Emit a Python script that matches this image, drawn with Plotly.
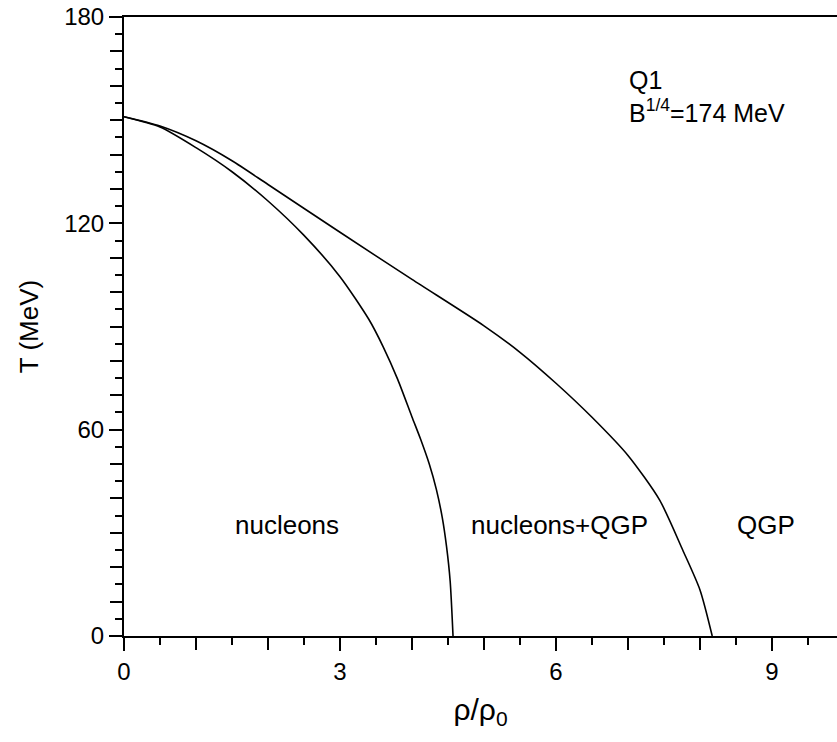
import plotly.graph_objects as go

# Phase boundaries in the (rho/rho0, T) plane
rho_nucleon_edge = [0.0, 0.5, 1.0, 1.5, 2.0, 2.5, 3.0, 3.4, 3.6, 3.8, 4.0,
                    4.12, 4.24, 4.34, 4.42, 4.48, 4.53, 4.57]
T_nucleon_edge = [151.0, 148.0, 142.0, 135.0, 126.5, 116.5, 104.5, 92.1, 84.1, 74.7, 63.7,
                  57.2, 50.0, 42.5, 34.5, 26.0, 16.0, 0.0]

rho_qgp_edge = [0.0, 0.5, 1.0, 1.5, 2.0, 3.0, 4.0, 5.0, 5.5, 6.0, 6.5,
                7.0, 7.44, 7.76, 8.0, 8.17]
T_qgp_edge = [151.0, 148.3, 144.0, 138.2, 131.3, 117.4, 103.7, 90.2, 82.5, 73.5, 63.6,
              52.5, 39.5, 25.0, 13.4, 0.0]

# Axis ticks and labels
x_labelled = [0, 3, 6, 9]
x_unit_ticks = list(range(0, 10))
y_labelled = [0, 60, 120, 180]
y_ten_ticks = list(range(0, 181, 10))

x_range = [0, 9.903]
y_range = [0, 180]

# Region labels
region_names = ["nucleons", "nucleons+QGP", "QGP"]
region_rho = [2.27, 6.05, 8.91]
region_T = [32.3, 32.3, 32.3]

FONT = "Liberation Sans, Arial, Helvetica, sans-serif"

fig = go.Figure()
for xs, ys in [(rho_nucleon_edge, T_nucleon_edge), (rho_qgp_edge, T_qgp_edge)]:
    fig.add_trace(go.Scatter(
        x=xs, y=ys, mode="lines",
        line=dict(color="black", width=1.6, shape="spline", smoothing=0.7),
        showlegend=False, hoverinfo="skip",
    ))

# Invisible copy on the overlay axes so the unit/ten ticks get drawn
fig.add_trace(go.Scatter(
    x=rho_qgp_edge, y=T_qgp_edge, mode="lines", xaxis="x2", yaxis="y2",
    line=dict(width=0), opacity=0, showlegend=False, hoverinfo="skip",
))

for name, rx, ty in zip(region_names, region_rho, region_T):
    fig.add_annotation(x=rx, y=ty, text=name, showarrow=False,
                       xanchor="center", yanchor="middle",
                       font=dict(family=FONT, size=26, color="black"))

fig.add_annotation(x=6.986, y=161.6, text="Q1", showarrow=False,
                   xanchor="left", yanchor="middle",
                   font=dict(family=FONT, size=25, color="black"))
fig.add_annotation(x=6.986, y=152.8, text="B<sup>1/4</sup>=174 MeV", showarrow=False,
                   xanchor="left", yanchor="middle",
                   font=dict(family=FONT, size=25, color="black"))

tick_style = dict(ticks="outside", tickwidth=2, tickcolor="black",
                  showgrid=False, zeroline=False)

fig.update_layout(
    width=837, height=742, autosize=False,
    margin=dict(l=124, r=0, t=17, b=106),
    paper_bgcolor="white", plot_bgcolor="white",
    font=dict(family=FONT, color="black"),
    xaxis=dict(
        range=x_range, mirror=True,
        showline=True, linecolor="black", linewidth=2,
        tickmode="array", tickvals=x_labelled, ticklen=13,
        tickfont=dict(family=FONT, size=24, color="black"),
        minor=dict(dtick=0.5, tick0=0, ticks="outside", ticklen=7,
                   tickwidth=2, tickcolor="black"),
        title=dict(text="ρ/ρ<sub>0</sub>", font=dict(family=FONT, size=30), standoff=15),
        **tick_style,
    ),
    yaxis=dict(
        range=y_range,
        showline=True, linecolor="black", linewidth=2,
        tickmode="array", tickvals=y_labelled, ticklen=13,
        tickfont=dict(family=FONT, size=24, color="black"),
        minor=dict(dtick=5, tick0=0, ticks="outside", ticklen=7,
                   tickwidth=2, tickcolor="black"),
        title=dict(text="T (MeV)", font=dict(family=FONT, size=26), standoff=18),
        **tick_style,
    ),
    xaxis2=dict(
        range=x_range, overlaying="x", anchor="y", side="bottom",
        tickmode="array", tickvals=x_unit_ticks, ticklen=13,
        showticklabels=False, showline=False,
        **tick_style,
    ),
    yaxis2=dict(
        range=y_range, overlaying="y", anchor="x", side="left",
        tickmode="array", tickvals=y_ten_ticks, ticklen=13,
        showticklabels=False, showline=False,
        **tick_style,
    ),
)

fig.write_html("out.html")
